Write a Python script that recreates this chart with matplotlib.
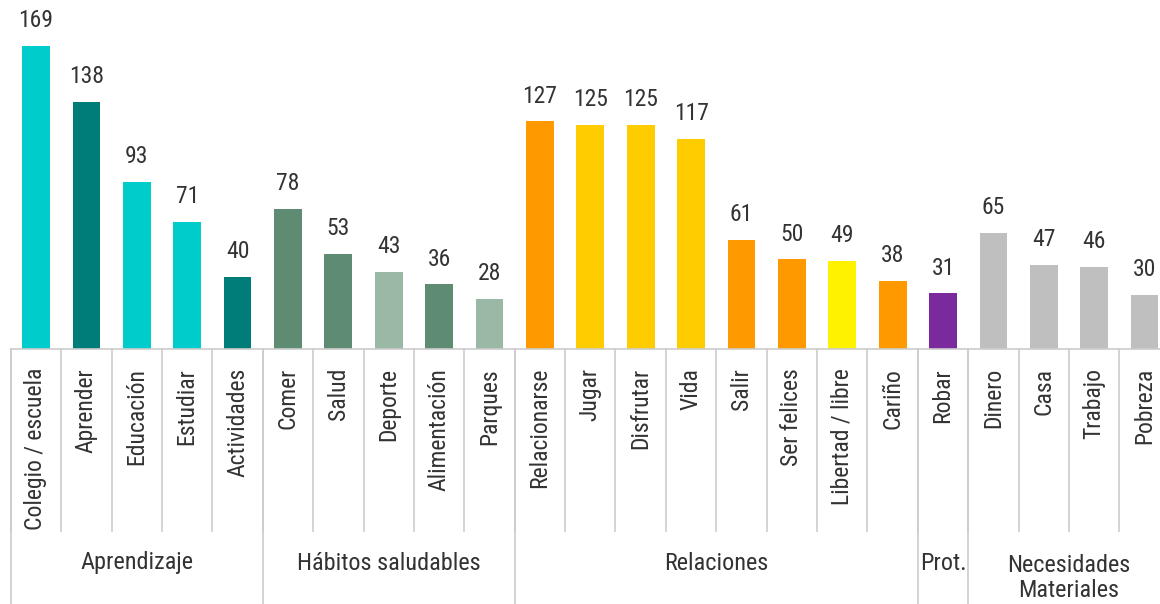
import numpy as np
import matplotlib
matplotlib.use("Agg")
import matplotlib.pyplot as plt
import matplotlib.transforms as mtransforms

plt.rcParams["font.family"] = ["Roboto Condensed", "Roboto", "DejaVu Sans"]

# data
categories = ["Colegio / escuela", "Aprender", "Educación", "Estudiar", "Actividades",
              "Comer", "Salud", "Deporte", "Alimentación", "Parques",
              "Relacionarse", "Jugar", "Disfrutar", "Vida", "Salir", "Ser felices",
              "Libertad / libre", "Cariño",
              "Robar",
              "Dinero", "Casa", "Trabajo", "Pobreza"]
values = [169, 138, 93, 71, 40,
          78, 53, 43, 36, 28,
          127, 125, 125, 117, 61, 50, 49, 38,
          31,
          65, 47, 46, 30]
colors = ["#00CCCC", "#007D79", "#00CCCC", "#00CCCC", "#007D79",
          "#5E8C72", "#5E8C72", "#9AB8A6", "#5E8C72", "#9AB8A6",
          "#FF9900", "#FFCC00", "#FFCC00", "#FFCC00", "#FF9900", "#FF9900", "#FFF200", "#FF9900",
          "#7B2A9E",
          "#BFBFBF", "#BFBFBF", "#BFBFBF", "#BFBFBF"]
groups = ["Aprendizaje", "Hábitos saludables", "Relaciones", "Prot.", "Necesidades\nMateriales"]
group_sizes = [5, 5, 8, 1, 4]

W, H = 1160, 604
fig = plt.figure(figsize=(W / 100, H / 100), dpi=100)
# axis runs a little past the right edge, like the original
ax = fig.add_axes([10.8 / W, (H - 349) / H, 1159 / W, 349 / H])

x = np.arange(len(values))
bars = ax.bar(x, values, width=0.55, color=colors)
ax.bar_label(bars, labels=[str(v) for v in values], padding=10, fontsize=17, color="#333333")

ax.set_xlim(-0.5, len(values) - 0.5)
ax.set_ylim(0, 349 / 1.792)
for s in ["top", "right", "left"]:
    ax.spines[s].set_visible(False)
ax.spines["bottom"].set_color("#CCCCCC")
ax.spines["bottom"].set_linewidth(1.2)
ax.set_xticks([])
ax.set_yticks([])

trans = mtransforms.blended_transform_factory(ax.transData, fig.transFigure)

def fy(px):
    return 1 - px / H

line_kw = dict(color="#CCCCCC", lw=1.2, transform=trans, clip_on=False)

# category labels + short separators
for i, name in enumerate(categories):
    ax.text(i, fy(368), name, rotation=90, ha="center", va="top",
            fontsize=17, color="#333333", transform=trans)
    ax.plot([i - 0.5, i - 0.5], [fy(349), fy(531)], **line_kw)

# group labels + long separators
start = 0
for g, n in zip(groups, group_sizes):
    ax.plot([start - 0.5, start - 0.5], [fy(349), fy(604)], **line_kw)
    nl = g.count("\n")
    ax.text(start + n / 2 - 0.5, fy(563 + nl * 15), g, ha="center", va="center",
            fontsize=17.5, color="#333333", transform=trans, linespacing=1.1)
    start += n

fig.savefig("out.png", dpi=100)
